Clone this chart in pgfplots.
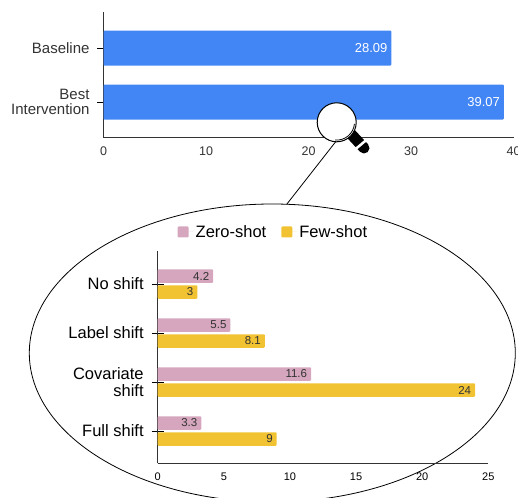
\documentclass[border=0pt]{standalone}
\usepackage{fontspec}
\setmainfont{Liberation Sans}
\usepackage{pgfplots}
\pgfplotsset{compat=1.18}
\definecolor{gblue}{HTML}{4285F4}
\definecolor{gpink}{HTML}{D5A6BD}
\definecolor{ggold}{HTML}{F1C232}
\definecolor{axisgray}{HTML}{333333}
\pgfplotsset{
  common/.style={
    /pgf/number format/assume math mode=true,
    scale only axis,
    axis x line=bottom, axis y line=left,
    axis line style={-,axisgray,line width=0.8pt},
    xbar, clip=false,
    tick align=center,
    major x tick style={draw=none},
    major y tick style={black,line width=0.8pt},
    major tick length=12pt,
    enlargelimits=false,
    ytick=data,
    yticklabel style={align=right,xshift=-4.5pt},
    nodes near coords,
    every node near coord/.append style={anchor=east,xshift=-0.5pt},
  },
}
\begin{document}
\begin{tikzpicture}
\clip (0,0) rectangle (518pt,-497pt);
\useasboundingbox (0,0) rectangle (518pt,-497pt);

% top chart
\begin{axis}[common,
  at={(103.5pt,-137.5pt)}, anchor=south west,
  width=410pt, height=125.5pt,
  xmin=0, xmax=40, ymin=-0.657, ymax=1.667,
  xtick={0,10,20,30,40},
  yticklabels={{Best\\Intervention},Baseline},
  bar width=35pt,
  ticklabel style={text=axisgray},
  xticklabel style={font=\fontsize{12.5}{13}\selectfont},
  yticklabel style={font=\fontsize{15}{15.5}\selectfont},
  every node near coord/.append style={text=white,font=\fontsize{13}{14}\selectfont},
]
\addplot[fill=gblue,draw=none,rounded corners=1pt] coordinates {(39.07,0) (28.09,1)};
\end{axis}

% callout
\draw[line width=0.8pt] (272.3pt,-353pt) ellipse [x radius=243pt,y radius=149pt];
\draw[line width=0.8pt] (335.7pt,-141.7pt) -- (286.7pt,-204.3pt);

% magnifier
\draw[black,line width=11pt,line cap=round] (351pt,-134pt) -- (364pt,-148pt);
\draw[white,line width=2.5pt] (356pt,-148.7pt) -- (366pt,-140.3pt);
\draw[fill=white,line width=1pt] (336.7pt,-122.3pt) circle [radius=19.5pt];
\draw[line width=0.8pt] (336.7pt,-122.3pt) ++(-5:17.8pt) arc [start angle=-5,end angle=-95,radius=17.8pt];

% bottom chart
\begin{axis}[common,
  at={(157.7pt,-463.3pt)}, anchor=south west,
  width=330.6pt, height=212.6pt,
  xmin=0, xmax=25, ymin=-0.659, ymax=3.68,
  xtick={0,5,10,15,20,25},
  yticklabels={Full shift,{Covariate\\shift},Label shift,No shift},
  bar width=13.5pt,
  xticklabel style={font=\fontsize{11}{12}\selectfont},
  yticklabel style={font=\fontsize{16.5}{17}\selectfont},
  every node near coord/.append style={text=black!80,font=\fontsize{11.5}{12}\selectfont},
  legend style={draw=none,fill=none,at={(0.35,1.088)},anchor=center,
    legend columns=2,font=\fontsize{16.5}{17}\selectfont,
    /tikz/every even column/.append style={column sep=13pt}},
  legend cell align=left,
]
\addplot[fill=gpink,draw=none,rounded corners=1pt,bar shift=8pt,
  legend image code/.code={\fill[gpink] (0pt,-5.5pt) rectangle (11pt,5.5pt);\path (0pt,0pt) -- (16pt,0pt);}]
  coordinates {(3.3,0) (11.6,1) (5.5,2) (4.2,3)};
\addlegendentry{Zero-shot}
\addplot[fill=ggold,draw=none,rounded corners=1pt,bar shift=-8pt,
  legend image code/.code={\fill[ggold] (0pt,-5.5pt) rectangle (11pt,5.5pt);\path (0pt,0pt) -- (16pt,0pt);}]
  coordinates {(9,0) (24,1) (8.1,2) (3,3)};
\addlegendentry{Few-shot}
\end{axis}
\end{tikzpicture}
\end{document}
